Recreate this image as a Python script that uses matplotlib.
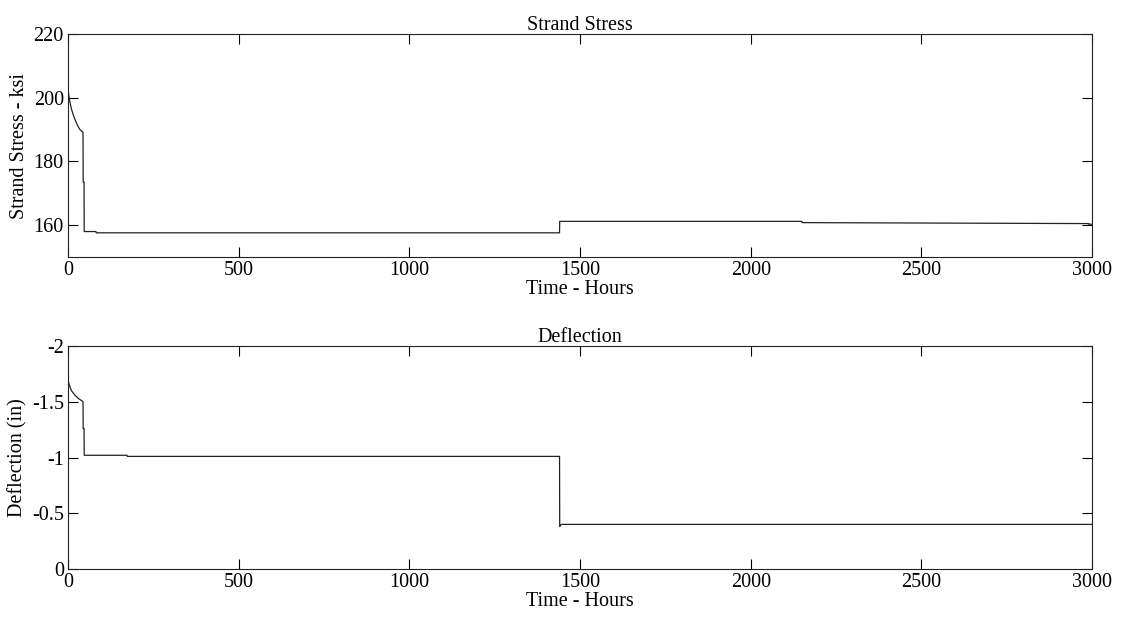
import numpy as np
import matplotlib
matplotlib.use('Agg')
import matplotlib.pyplot as plt

plt.rcParams['font.family'] = 'Liberation Serif'
plt.rcParams['font.size'] = 14.5

# Strand stress (ksi) vs time (hours)
t_stress = [0, 2, 5, 10, 15, 20, 25, 30, 35, 40, 44, 44.5, 47, 47.5, 82, 82.5,
            1440, 1440.5, 2150, 2150.5, 2990, 2990.5, 3000]
stress = [203.0, 201.0, 199.0, 196.5, 194.8, 193.3, 192.0, 190.9, 190.0, 189.5, 189.2,
          173.6, 173.6, 158.0, 158.0, 157.6,
          157.6, 161.2, 161.2, 160.8, 160.5, 160.3, 160.3]

# Deflection (in) vs time (hours)
t_defl = [0, 2, 5, 10, 15, 20, 25, 30, 35, 40, 44, 44.5, 47, 47.5, 173, 173.5,
          1440, 1440.5, 1445, 3000]
defl = [-1.70, -1.67, -1.64, -1.60, -1.58, -1.56, -1.545, -1.53, -1.52, -1.51, -1.50,
        -1.26, -1.26, -1.02, -1.02, -1.01,
        -1.01, -0.38, -0.40, -0.40]

fig = plt.figure(figsize=(11.22, 6.18), dpi=100)
ax1 = fig.add_axes([0.0606, 0.5841, 0.9127, 0.3608])
ax2 = fig.add_axes([0.0606, 0.0793, 0.9127, 0.3608])

ax1.plot(t_stress, stress, color='#222222', lw=0.9)
ax1.set_xlim(0, 3000)
ax1.set_ylim(150, 220)
ax1.set_yticks([160, 180, 200, 220])
ax1.set_title('Strand Stress', fontsize=14.5, pad=3)
ax1.set_xlabel('Time - Hours', labelpad=0)
ax1.set_ylabel('Strand Stress - ksi', labelpad=3)

ax2.plot(t_defl, defl, color='#222222', lw=0.9)
ax2.set_xlim(0, 3000)
ax2.set_ylim(0, -2)
ax2.set_yticks([0, -0.5, -1, -1.5, -2])
ax2.set_yticklabels(['0', '-0.5', '-1', '-1.5', '-2'])
ax2.set_title('Deflection', fontsize=14.5, pad=3)
ax2.set_xlabel('Time - Hours', labelpad=0)
ax2.set_ylabel('Deflection (in)', labelpad=3)

for ax in (ax1, ax2):
    ax.set_xticks([0, 500, 1000, 1500, 2000, 2500, 3000])
    ax.tick_params(direction='in', top=True, right=True, length=7, width=0.8,
                   labelsize=14.5, pad=3)
    for s in ax.spines.values():
        s.set_linewidth(0.8)
        s.set_color('#222222')

fig.savefig('out.png', dpi=100)
